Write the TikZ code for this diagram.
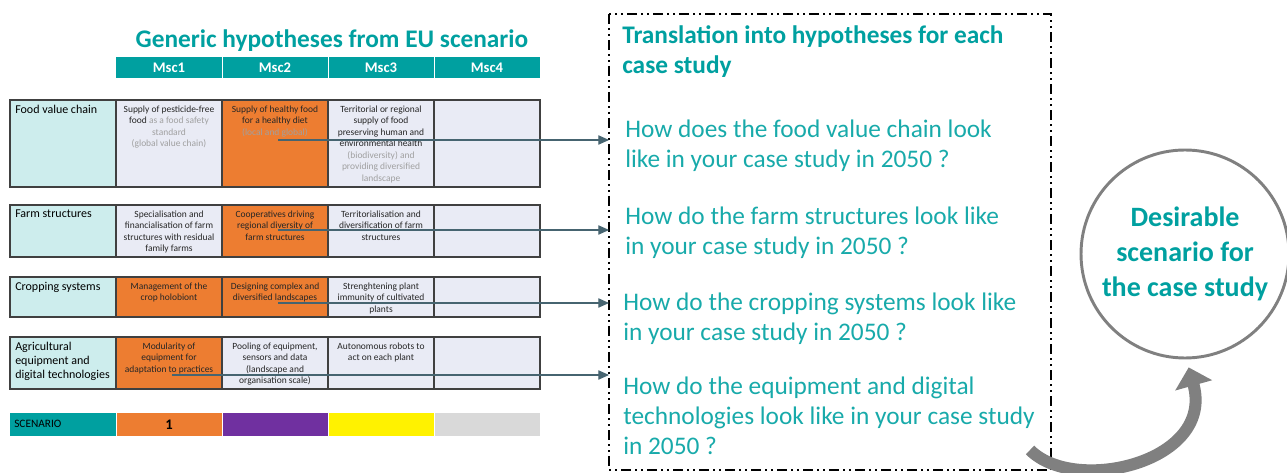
\documentclass[tikz,border=0pt]{standalone}
\usepackage{fontspec}
\setmainfont{Carlito}
\usetikzlibrary{arrows.meta}

\definecolor{tealhead}{RGB}{0,160,160}
\definecolor{tealtxt}{RGB}{24,170,170}
\definecolor{lblfill}{RGB}{205,237,237}
\definecolor{cellfill}{RGB}{233,235,245}
\definecolor{orng}{RGB}{237,125,49}
\definecolor{purp}{RGB}{112,48,160}
\definecolor{scgray}{RGB}{217,217,217}
\definecolor{edgegray}{RGB}{64,64,64}
\definecolor{conncol}{RGB}{70,100,112}
\definecolor{txtgray}{RGB}{160,160,160}
\definecolor{arcgray}{RGB}{128,128,128}

\begin{document}
\begin{tikzpicture}[x=0.75pt, y=-0.75pt,
  cellbox/.style={draw=edgegray, line width=0.9pt},
  celltxt/.style={anchor=north, inner sep=0pt, align=center,
    font=\fontsize{7.1}{8.6}\selectfont, text=black!85},
  lbltxt/.style={anchor=north west, inner sep=0pt, align=left,
    font=\fontsize{9}{10.5}\selectfont},
  msc/.style={text=white, inner sep=0pt, font=\fontsize{11}{12}\selectfont\bfseries},
  qtxt/.style={anchor=north west, inner sep=0pt, align=left, text=tealtxt,
    font=\fontsize{19}{22.5}\selectfont},
  conn/.style={draw=conncol, line width=0.8pt, -{Triangle[length=8pt,width=7pt]}}
]
\useasboundingbox (0,0) rectangle (1287,473);

  % ================================================================
  % Generic hypotheses table
  % ================================================================

  \node[anchor=base, text=tealhead, font=\fontsize{19}{22}\selectfont\bfseries]
    (title) at (332,48) {Generic hypotheses from EU scenario};

  \fill[tealhead] (116,57) rectangle (221.5,78);
  \fill[tealhead] (222.5,57) rectangle (327.5,78);
  \fill[tealhead] (328.5,57) rectangle (433.5,78);
  \fill[tealhead] (434.5,57) rectangle (540,78);
  \node[msc] (msc1) at (169,67.5) {Msc1};
  \node[msc] (msc2) at (275,67.5) {Msc2};
  \node[msc] (msc3) at (381,67.5) {Msc3};
  \node[msc] (msc4) at (487,67.5) {Msc4};

  % --- Food value chain ---
  \filldraw[cellbox, fill=lblfill] (10,100) rectangle (116,187);
  \filldraw[cellbox, fill=cellfill] (116,100) rectangle (222,187);
  \filldraw[cellbox, fill=orng] (222,100) rectangle (328,187);
  \filldraw[cellbox, fill=cellfill] (328,100) rectangle (434,187);
  \filldraw[cellbox, fill=cellfill] (434,100) rectangle (540,187);
  \node[lbltxt] (fvc) at (15,104.5) {Food value chain};
  \node[celltxt] (fvc1) at (169,105.5)
    {Supply of pesticide-free\\
     food \textcolor{txtgray}{as a food safety}\\
     \textcolor{txtgray}{standard}\\
     \textcolor{txtgray}{(global value chain)}};
  \node[celltxt] (fvc2) at (275,105.5)
    {Supply of healthy food\\
     for a healthy diet\\
     \textcolor{txtgray}{(local and global)}};
  \node[celltxt] (fvc3) at (381,105.5)
    {Territorial or regional\\
     supply of food\\
     preserving human and\\
     environmental health\\
     \textcolor{txtgray}{(biodiversity) and}\\
     \textcolor{txtgray}{providing diversified}\\
     \textcolor{txtgray}{landscape}};

  % --- Farm structures ---
  \filldraw[cellbox, fill=lblfill] (10,205) rectangle (116,257);
  \filldraw[cellbox, fill=cellfill] (116,205) rectangle (222,257);
  \filldraw[cellbox, fill=orng] (222,205) rectangle (328,257);
  \filldraw[cellbox, fill=cellfill] (328,205) rectangle (434,257);
  \filldraw[cellbox, fill=cellfill] (434,205) rectangle (540,257);
  \node[lbltxt] (farm) at (15,209.5) {Farm structures};
  \node[celltxt] (farm1) at (169,210.5)
    {Specialisation and\\
     financialisation of farm\\
     structures with residual\\
     family farms};
  \node[celltxt] (farm2) at (275,210.5)
    {Cooperatives driving\\
     regional diversity of\\
     farm structures};
  \node[celltxt] (farm3) at (381,210.5)
    {Territorialisation and\\
     diversification of farm\\
     structures};

  % --- Cropping systems ---
  \filldraw[cellbox, fill=lblfill] (10,277) rectangle (116,317);
  \filldraw[cellbox, fill=orng] (116,277) rectangle (222,317);
  \filldraw[cellbox, fill=orng] (222,277) rectangle (328,317);
  \filldraw[cellbox, fill=cellfill] (328,277) rectangle (434,317);
  \filldraw[cellbox, fill=cellfill] (434,277) rectangle (540,317);
  \node[lbltxt] (crop) at (15,281.5) {Cropping systems};
  \node[celltxt] (crop1) at (169,282.5)
    {Management of the\\
     crop holobiont};
  \node[celltxt] (crop2) at (275,282.5)
    {Designing complex and\\
     diversified landscapes};
  \node[celltxt] (crop3) at (381,282.5)
    {Strenghtening plant\\
     immunity of cultivated\\
     plants};

  % --- Agricultural equipment ---
  \filldraw[cellbox, fill=lblfill] (10,337) rectangle (116,389);
  \filldraw[cellbox, fill=orng] (116,337) rectangle (222,389);
  \filldraw[cellbox, fill=cellfill] (222,337) rectangle (328,389);
  \filldraw[cellbox, fill=cellfill] (328,337) rectangle (434,389);
  \filldraw[cellbox, fill=cellfill] (434,337) rectangle (540,389);
  \node[lbltxt] (equip) at (15,341.5)
    {Agricultural\\
     equipment and\\
     digital technologies};
  \node[celltxt] (equip1) at (169,342.5)
    {Modularity of\\
     equipment for\\
     adaptation to practices};
  \node[celltxt] (equip2) at (275,342.5)
    {Pooling of equipment,\\
     sensors and data\\
     (landscape and\\
     organisation scale)};
  \node[celltxt] (equip3) at (381,342.5)
    {Autonomous robots to\\
     act on each plant};

  % --- Scenario bar ---
  \fill[tealhead] (10,413) rectangle (115.5,436);
  \fill[orng] (116.5,413) rectangle (221.5,436);
  \fill[purp] (222.5,413) rectangle (327.5,436);
  \fill[yellow] (328.5,413) rectangle (433.5,436);
  \fill[scgray] (434.5,413) rectangle (540,436);
  \node[anchor=base west, inner sep=0pt, font=\fontsize{8.5}{10}\selectfont]
    (scen) at (14,427) {SCENARIO};
  \node[anchor=base, inner sep=0pt, font=\fontsize{11}{12}\selectfont\bfseries]
    (scen1) at (169,429) {1};

  % ================================================================
  % Translation box (dash-dot-dot)
  % ================================================================

  \draw[line width=1.5pt, dash pattern=on 7.5pt off 3pt on 1.5pt off 3pt on 1.5pt off 3pt]
    (609,14) rectangle (1051,470);
  \coordinate (trbox) at (609,14);

  \node[qtxt, font=\fontsize{19}{22.5}\selectfont\bfseries, text=tealhead]
    (trhead) at (622,25) {Translation into hypotheses for each\\case study};
  \node[qtxt] (q1) at (625,119.5)
    {How does the food value chain look\\like in your case study in 2050 ?};
  \node[qtxt] (q2) at (625,206.5)
    {How do the farm structures look like\\in your case study in 2050 ?};
  \node[qtxt] (q3) at (623,292.5)
    {How do the cropping systems look like\\in your case study in 2050 ?};
  \node[qtxt] (q4) at (623,376.5)
    {How do the equipment and digital\\technologies look like in your case study\\in 2050 ?};

  % ================================================================
  % Arrows
  % ================================================================

  \coordinate (s1) at (278,140);
  \coordinate (s2) at (278,230);
  \coordinate (s3) at (278,303);
  \coordinate (s4) at (172,375);
  \draw[conn] (s1) -- (s1 -| trbox);
  \draw[conn] (s2) -- (s2 -| trbox);
  \draw[conn] (s3) -- (s3 -| trbox);
  \draw[conn] (s4) -- (s4 -| trbox);

  % --- Desirable scenario ---
  \node[circle, draw=arcgray, line width=2.2pt, minimum size=156pt, inner sep=0pt,
    align=center, text=tealhead, font=\fontsize{21}{26}\selectfont\bfseries]
    (goal) at (1185,254) {Desirable\\scenario for\\the case study};

  \coordinate (arcstart) at (1030,450);
  \draw[arcgray, line width=9pt, -{Triangle[length=14pt 0 0, width=28pt 0 0]}]
    (arcstart) .. controls (1075,495) and (1215,462) .. ([yshift=-6pt]goal.272);

\end{tikzpicture}
\end{document}
